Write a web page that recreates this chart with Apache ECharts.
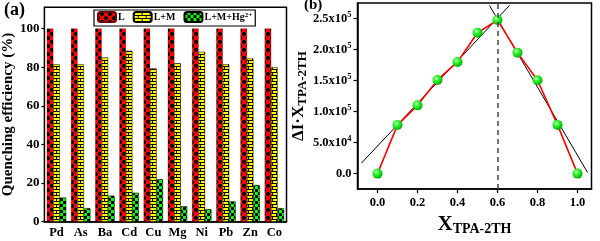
<!DOCTYPE html>
<html><head><meta charset="utf-8">
<script src="https://cdn.jsdelivr.net/npm/echarts@6/dist/echarts.min.js"></script>
<style>html,body{margin:0;padding:0;background:#fff}#c{width:600px;height:241px}</style>
</head><body><div id="c"></div>
<script>
// ---- Panel (a) data ----
const metals = ['Pd','As','Ba','Cd','Cu','Mg','Ni','Pb','Zn','Co'];
const seriesL = [100,100,100,100,100,100,100,100,100,100];
const seriesLM = [81.5,81.5,85,88.5,79.5,82,88,81.5,84.5,80];
const seriesLMHg = [12.5,7,13.5,15,22,8,6.5,10.5,19,7];
const effTicks = [0,20,40,60,80,100];
const legendNames = ['L','L+M','L+M+Hg2+'];

// ---- Panel (b) data ----
const xFrac = [0,0.1,0.2,0.3,0.4,0.5,0.6,0.7,0.8,0.9,1.0];
const dIX = [0,78500,110000,151000,180000,227000,247500,195000,150500,78500,0];
const fitLeftX = [-0.08,0.66];
const fitLeftY = [17000,271000];
const fitRightX = [0.56,1.05];
const fitRightY = [271000,2000];
const jobX = 0.6;
const xTicksB = [0,0.2,0.4,0.6,0.8,1.0];
const yTicksB = [0,50000,100000,150000,200000,250000];
const yTickLabelsB = ['0.0','5.0x10^4','1.0x10^5','1.5x10^5','2.0x10^5','2.5x10^5'];

const SERIF = '"Liberation Serif","DejaVu Serif",serif';

function makePattern(kind){
  const c = document.createElement('canvas');
  const ctx = c.getContext('2d');
  if(kind==='red'){
    c.width=8;c.height=8;
    ctx.fillStyle='#ff0000';ctx.fillRect(0,0,8,8);
    ctx.fillStyle='#000';
    [[4,2],[0,6],[8,6]].forEach(p=>{ctx.beginPath();ctx.arc(p[0],p[1],2.1,0,Math.PI*2);ctx.fill();});
  } else if(kind==='yellow'){
    c.width=8;c.height=6;
    ctx.fillStyle='#ffff00';ctx.fillRect(0,0,8,6);
    ctx.fillStyle='#000';
    ctx.fillRect(0,0,8,1);ctx.fillRect(0,3,8,1);
    ctx.fillRect(0,0,1,3);ctx.fillRect(4,3,1,3);
  } else {
    c.width=6;c.height=6;
    ctx.fillStyle='#00ff00';ctx.fillRect(0,0,6,6);
    ctx.fillStyle='#000';
    ctx.fillRect(0,0,3,3);ctx.fillRect(3,3,3,3);
  }
  return {image:c, repeat:'repeat'};
}

const chart = echarts.init(document.getElementById('c'), null, {renderer:'canvas'});
const sphere = {type:'radial',x:0.38,y:0.35,r:0.65,colorStops:[{offset:0,color:'#e8ffe8'},{offset:0.35,color:'#33ff33'},{offset:1,color:'#00b000'}]};

function yLabB(v){
  const i = yTicksB.indexOf(v);
  if(i<0) return '';
  const s = yTickLabelsB[i];
  const p = s.split('^');
  return p.length>1 ? p[0]+'{sup|'+p[1]+'}' : s;
}

const option = {
  backgroundColor:'#fff',
  animation:false,
  textStyle:{fontFamily:SERIF},
  graphic:[
    {type:'text',left:4,top:1,style:{text:'(a)',font:'bold 18px '+SERIF,fill:'#000'}},
    {type:'text',left:304,top:-2,style:{text:'(b)',font:'bold 15px '+SERIF,fill:'#000'}}
  ],
  legend:{
    data:legendNames,
    left:94, top:10,
    borderColor:'#000', borderWidth:1.2, padding:[1,3],
    itemGap:8, itemWidth:18, itemHeight:10,
    textStyle:{fontFamily:SERIF,fontWeight:'bold',fontSize:10,color:'#000',padding:[0,0,0,-3],
      rich:{sup:{fontFamily:SERIF,fontWeight:'bold',fontSize:7,verticalAlign:'top',lineHeight:8,padding:[0,0,6,0]}}},
    formatter:function(n){return n==='L+M+Hg2+'?'L+M+Hg{sup|2+}':n;}
  },
  grid:[
    {left:36.5,top:7.3,right:313.5,bottom:19.3,show:true,borderColor:'#000',borderWidth:1.5,backgroundColor:'transparent'},
    {left:357.5,top:3,right:8.5,bottom:41,show:true,borderColor:'#000',borderWidth:1.5,backgroundColor:'transparent'}
  ],
  xAxis:[
    {type:'category',gridIndex:0,data:metals,
      axisLine:{lineStyle:{color:'#000',width:1.5}},
      axisTick:{alignWithLabel:true,interval:0,length:3,lineStyle:{color:'#000',width:1.2}},
      axisLabel:{interval:0,color:'#000',fontFamily:SERIF,fontWeight:'bold',fontSize:12.5,margin:5}},
    {type:'value',gridIndex:1,min:-0.1,max:1.07,
      splitLine:{show:false},
      axisLine:{onZero:false,lineStyle:{color:'#000',width:1.5}},
      axisTick:{customValues:xTicksB,length:4,lineStyle:{color:'#000',width:1.2}},
      axisLabel:{customValues:xTicksB,color:'#000',fontFamily:SERIF,fontWeight:'bold',fontSize:12.5,margin:7,
        formatter:function(v){return v.toFixed(1);}},
      name:'X{sub|TPA-2TH}',nameLocation:'middle',nameGap:23,
      nameTextStyle:{color:'#000',fontFamily:SERIF,fontWeight:'bold',fontSize:21,
        rich:{sub:{fontFamily:SERIF,fontWeight:'bold',fontSize:14,color:'#000',padding:[9,0,0,0]}}}}
  ],
  yAxis:[
    {type:'value',gridIndex:0,min:0,max:111,
      splitLine:{show:false},
      axisLine:{lineStyle:{color:'#000',width:1.5}},
      axisTick:{show:true,customValues:effTicks,length:3,lineStyle:{color:'#000',width:1.2}},
      axisLabel:{customValues:effTicks,color:'#000',fontFamily:SERIF,fontWeight:'bold',fontSize:13,margin:5},
      name:'Quenching efficiency (%)',nameLocation:'middle',nameGap:22,
      nameTextStyle:{color:'#000',fontFamily:SERIF,fontWeight:'bold',fontSize:15}},
    {type:'value',gridIndex:1,min:-25000,max:275000,
      splitLine:{show:false},
      axisLine:{onZero:false,lineStyle:{color:'#000',width:1.5}},
      axisTick:{show:true,customValues:yTicksB,length:4,lineStyle:{color:'#000',width:1.2}},
      axisLabel:{customValues:yTicksB,color:'#000',fontFamily:SERIF,fontWeight:'bold',fontSize:12.5,margin:6,
        formatter:yLabB,
        rich:{sup:{fontFamily:SERIF,fontWeight:'bold',fontSize:8.5,color:'#000',padding:[0,0,7,0]}}},
      name:'ΔI·X{sub|TPA-2TH}',nameLocation:'middle',nameGap:47,
      nameTextStyle:{color:'#000',fontFamily:SERIF,fontWeight:'bold',fontSize:17,
        rich:{sub:{fontFamily:SERIF,fontWeight:'bold',fontSize:13,color:'#000',padding:[7,0,0,0]}}}}
  ],
  series:[
    {name:'L',type:'bar',xAxisIndex:0,yAxisIndex:0,data:seriesL,barCategoryGap:'20%',barGap:'0%',
      itemStyle:{color:makePattern('red'),borderColor:'#600',borderWidth:0.3}},
    {name:'L+M',type:'bar',xAxisIndex:0,yAxisIndex:0,data:seriesLM,barCategoryGap:'20%',barGap:'0%',
      itemStyle:{color:makePattern('yellow'),borderColor:'#000',borderWidth:0.5}},
    {name:'L+M+Hg2+',type:'bar',xAxisIndex:0,yAxisIndex:0,data:seriesLMHg,barCategoryGap:'20%',barGap:'0%',
      itemStyle:{color:makePattern('green'),borderColor:'#000',borderWidth:0.5}},
    {name:'fitL',type:'line',xAxisIndex:1,yAxisIndex:1,symbol:'none',silent:true,
      data:fitLeftX.map((x,i)=>[x,fitLeftY[i]]),lineStyle:{color:'#000',width:1},
      markLine:{symbol:'none',silent:true,label:{show:false},
        lineStyle:{type:[5,4],color:'#444',width:1.5},data:[{xAxis:jobX}]}},
    {name:'fitR',type:'line',xAxisIndex:1,yAxisIndex:1,symbol:'none',silent:true,
      data:fitRightX.map((x,i)=>[x,fitRightY[i]]),lineStyle:{color:'#000',width:1}},
    {name:'job',type:'line',xAxisIndex:1,yAxisIndex:1,symbol:'circle',symbolSize:10,
      data:xFrac.map((x,i)=>[x,dIX[i]]),
      lineStyle:{color:'#ff0000',width:1.6},
      itemStyle:{color:sphere,borderWidth:0}}
  ]
};
chart.setOption(option);
</script></body></html>
